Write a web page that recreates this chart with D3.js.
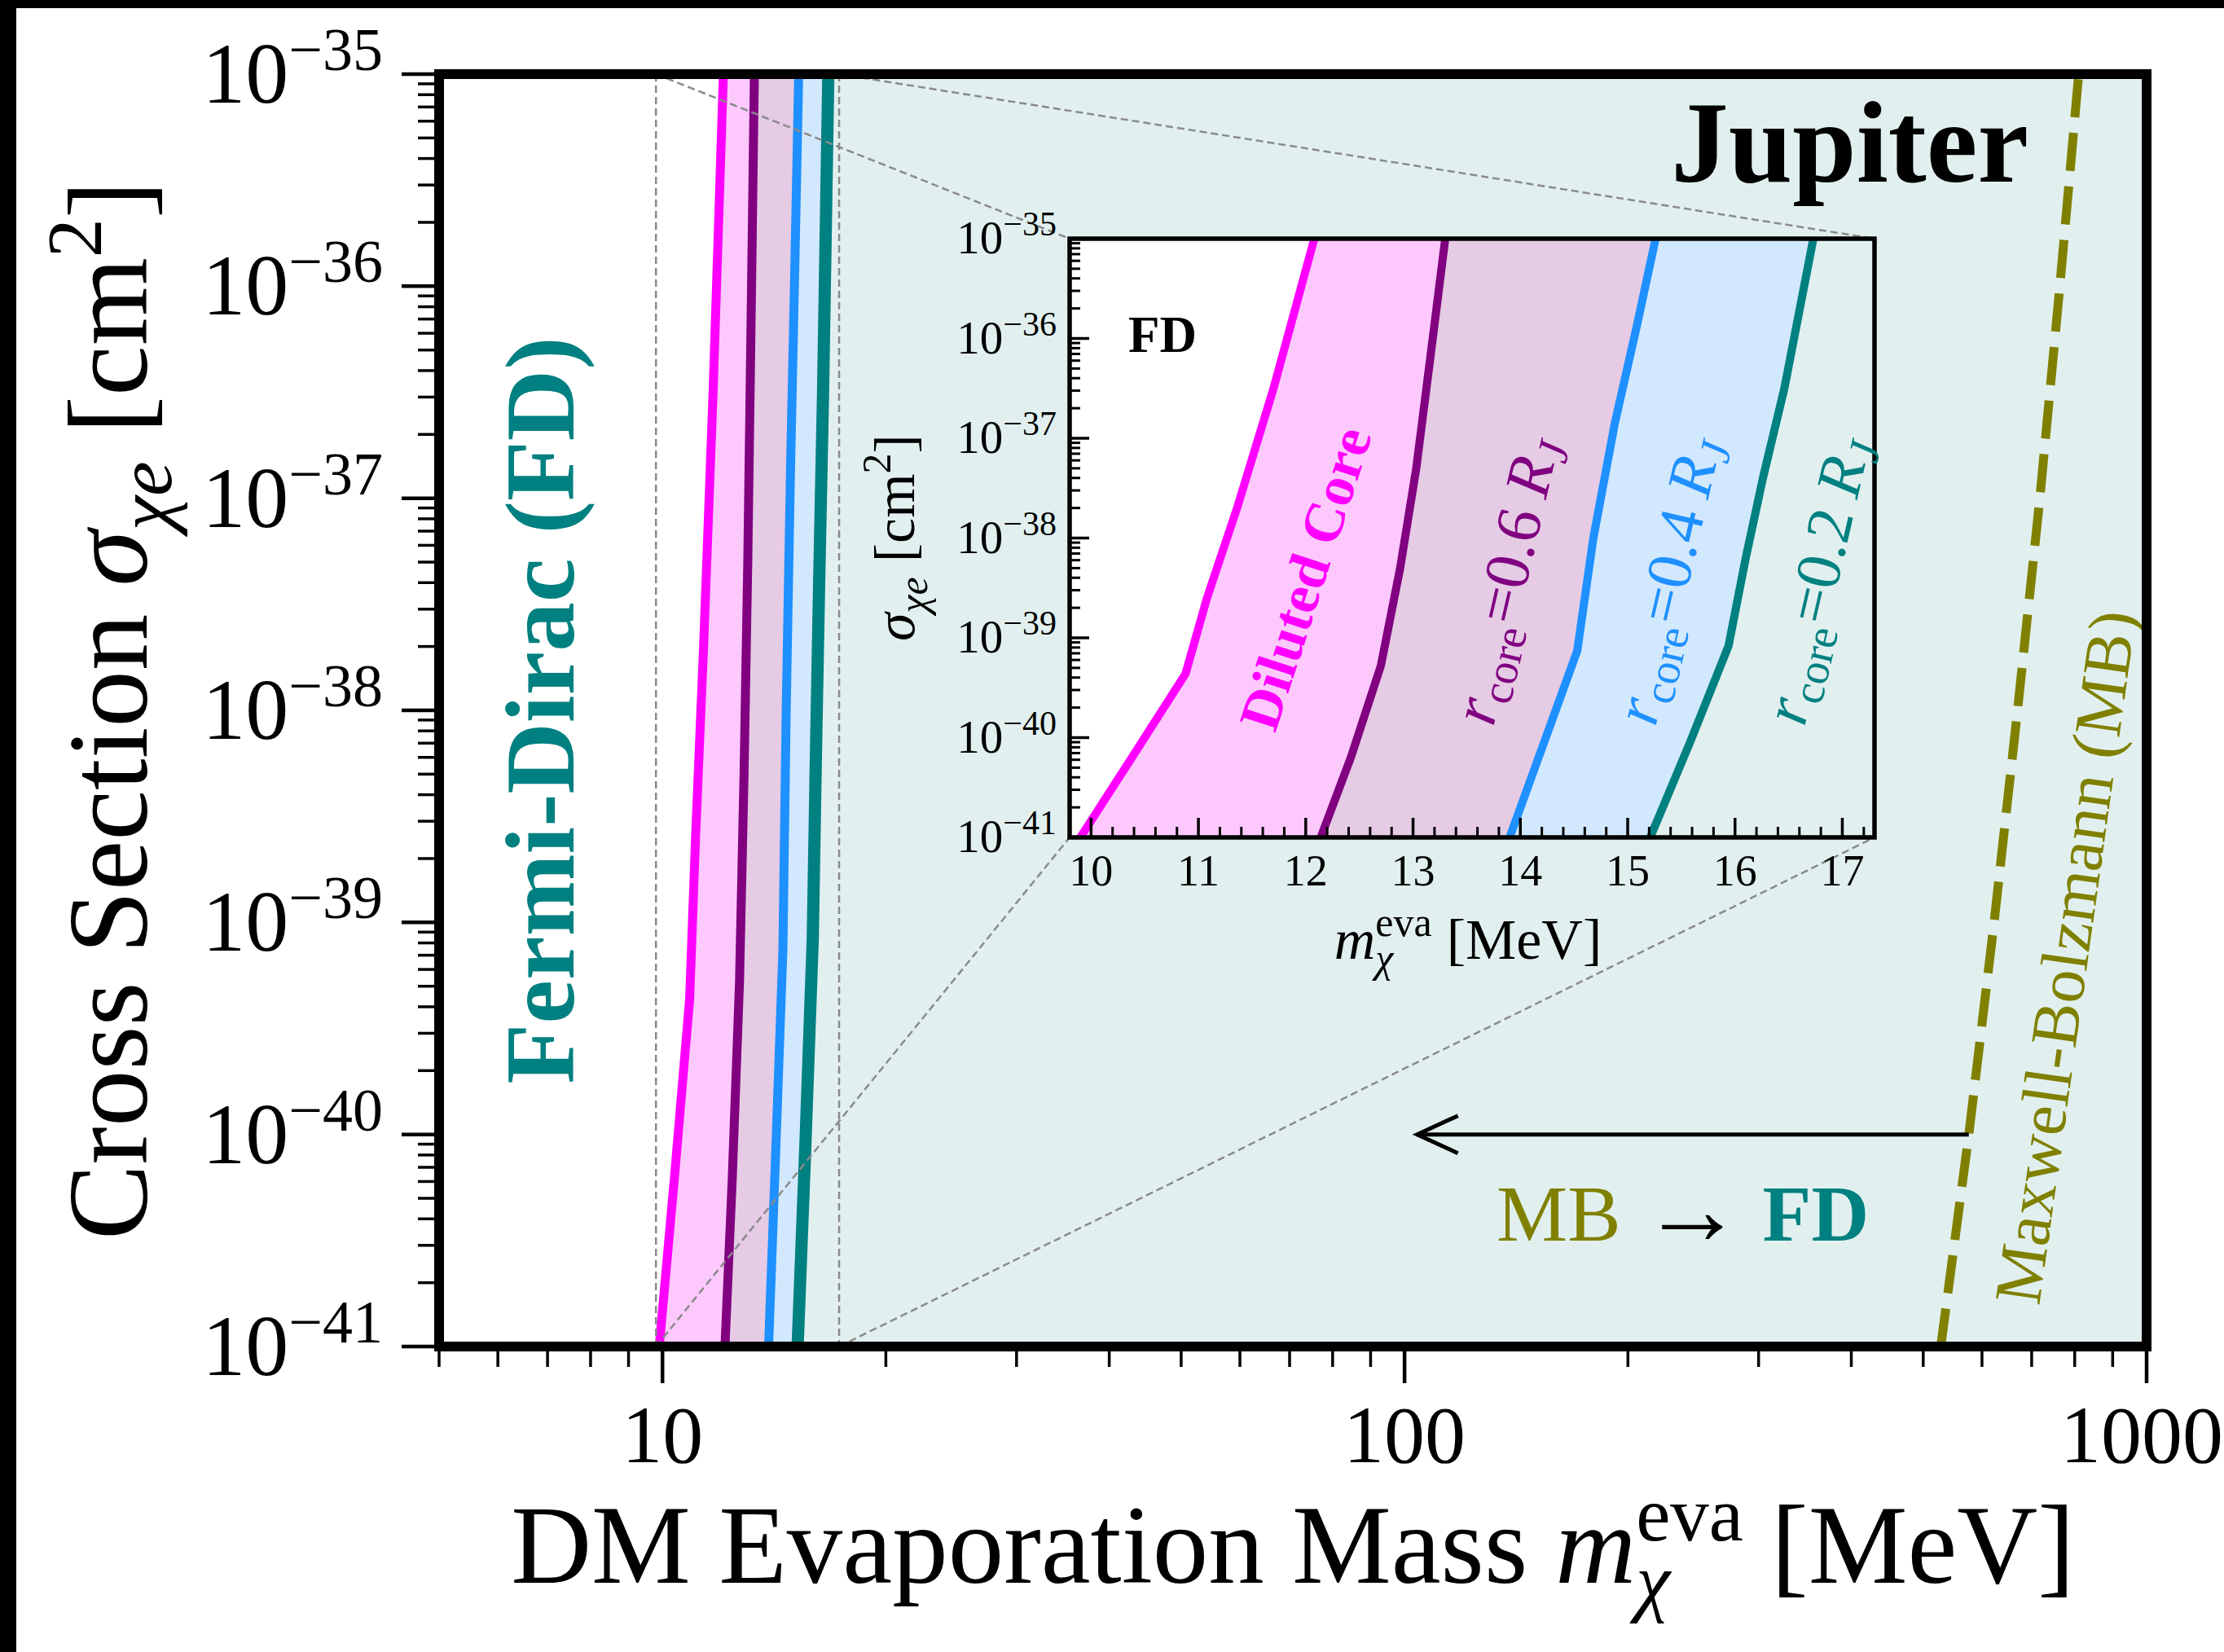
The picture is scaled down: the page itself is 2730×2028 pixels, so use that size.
<!DOCTYPE html>
<html><head><meta charset="utf-8">
<script src="https://cdn.jsdelivr.net/npm/d3@7"></script>
<style>body{margin:0;background:#fff}</style>
</head><body>
<svg id="chart" width="2730" height="2028"></svg>
<script>
// ---------------- data ----------------
const dilutedCoreMass     = [9.90, 10.38, 10.88, 11.08, 11.36, 11.70, 12.08];
const dilutedCoreLogSigma = [-41, -40.2, -39.36, -38.6, -37.7, -36.5, -35];
const core06Mass          = [12.14, 12.42, 12.70, 12.88, 13.03, 13.16, 13.30];
const core06LogSigma      = [-41, -40.2, -39.28, -38.3, -37.3, -36.2, -35];
const core04Mass          = [13.90, 14.22, 14.53, 14.68, 14.88, 15.08, 15.26];
const core04LogSigma      = [-41, -40.05, -39.13, -38.0, -36.85, -35.9, -35];
const core02Mass          = [15.21, 15.58, 15.94, 16.10, 16.26, 16.46, 16.73];
const core02LogSigma      = [-41, -40.05, -39.08, -38.2, -37.4, -36.5, -35];
const mbMass              = [528, 576, 623, 670, 718, 764, 810];
const mbLogSigma          = [-41, -40, -39, -38, -37, -36, -35];
const arrowMass           = [576, 104];
const arrowLogSigma       = -40;
const mainXDomain         = [5, 1000];
const sigmaDomain         = [1e-41, 1e-35];
const insetXDomain        = [9.8, 17.3];
const mainXMajor          = [10, 100, 1000];
const mainXLabels         = ["10", "100", "1000"];
const insetXTicks         = [10, 11, 12, 13, 14, 15, 16, 17];
const insetXLabels        = ["10", "11", "12", "13", "14", "15", "16", "17"];
const yDecades            = [-41, -40, -39, -38, -37, -36, -35];

const FONT = "'Liberation Serif', 'Times New Roman', serif";
const C = {magenta:"#ff00ff", purple:"#800080", blue:"#1e90ff", teal:"#008080", olive:"#808000",
  fPink:"#fdc9fd", fPurple:"#e5cbe4", fBlue:"#d2e8fc", fTeal:"#e1f0ef", grey:"#8a8a8a"};

const svg = d3.select("#chart");
svg.append("rect").attr("width",2730).attr("height",2028).attr("fill","#fff");
svg.append("rect").attr("x",0).attr("y",0).attr("width",2730).attr("height",10).attr("fill","#000");
svg.append("rect").attr("x",0).attr("y",0).attr("width",20).attr("height",2028).attr("fill","#000");

// ---------------- helpers ----------------
function rich(parent, segs, o) {
  const g = parent.append("g");
  const inner = g.append("g");
  let cx = 0, prevStart = 0;
  segs.forEach(s => {
    const xs = s.stack ? prevStart : cx + (s.dx || 0);
    const t = inner.append("text").attr("x", xs).attr("y", s.dy || 0)
      .attr("font-family", FONT).attr("font-size", s.size || o.size)
      .attr("font-style", s.italic ? "italic" : "normal")
      .attr("font-weight", s.bold ? "bold" : "normal")
      .attr("fill", s.fill || o.fill || "#000").text(s.t);
    const w = t.node().getComputedTextLength();
    if (s.stack) cx = Math.max(cx, xs + w); else { prevStart = xs; cx = xs + w; }
  });
  const off = o.anchor === "middle" ? -cx / 2 : o.anchor === "end" ? -cx : 0;
  inner.attr("transform", `translate(${off},${o.vshift || 0})`);
  g.attr("transform", `translate(${o.x},${o.y}) rotate(${o.rotate || 0})`);
  return g;
}
const pts = (ms, ls) => ms.map((m, i) => ({m, s: Math.pow(10, ls[i])}));
const curves = [
  {p: pts(dilutedCoreMass, dilutedCoreLogSigma), c: C.magenta},
  {p: pts(core06Mass, core06LogSigma), c: C.purple},
  {p: pts(core04Mass, core04LogSigma), c: C.blue},
  {p: pts(core02Mass, core02LogSigma), c: C.teal}
];
const fills = [C.fPink, C.fPurple, C.fBlue];

function drawPanel(g, xs, ys, xmax, lw, lwTeal) {
  const line = d3.line().x(d => xs(d.m)).y(d => ys(d.s));
  for (let i = 0; i < 3; i++) {
    const poly = curves[i].p.concat(curves[i + 1].p.slice().reverse());
    g.append("path").attr("d", line(poly) + "Z").attr("fill", fills[i]);
  }
  const tpoly = curves[3].p.concat([{m: xmax, s: sigmaDomain[1]}, {m: xmax, s: sigmaDomain[0]}]);
  g.append("path").attr("d", line(tpoly) + "Z").attr("fill", C.fTeal);
  curves.forEach((cv, i) => g.append("path").attr("d", line(cv.p)).attr("fill", "none")
    .attr("stroke", cv.c).attr("stroke-width", i === 3 ? lwTeal : lw).attr("stroke-linejoin", "round"));
}

// ---------------- main axes ----------------
const M = {l: 539, r: 2635, t: 91, b: 1653};
const x = d3.scaleLog().domain(mainXDomain).range([M.l, M.r]);
const y = d3.scaleLog().domain(sigmaDomain).range([M.b, M.t]);
svg.append("clipPath").attr("id", "cm").append("rect")
  .attr("x", M.l).attr("y", M.t).attr("width", M.r - M.l).attr("height", M.b - M.t);
const gm = svg.append("g").attr("clip-path", "url(#cm)");
drawPanel(gm, x, y, mainXDomain[1], 11, 15);
const mbPts = pts(mbMass, mbLogSigma);
gm.append("path").attr("d", d3.line().x(d => x(d.m)).y(d => y(d.s))(mbPts))
  .attr("fill", "none").attr("stroke", C.olive).attr("stroke-width", 11).attr("stroke-dasharray", "47,19");

// inset indicator rectangle and connectors
const I = {l: 1313, r: 2301, t: 293, b: 1028};
const dash = s => s.attr("fill", "none").attr("stroke", C.grey).attr("stroke-width", 2.5).attr("stroke-dasharray", "9,5");
insetXDomain.forEach(v => dash(gm.append("line").attr("x1", x(v)).attr("x2", x(v)).attr("y1", M.t).attr("y2", M.b)));
dash(svg.append("line").attr("x1", x(insetXDomain[0])).attr("y1", y(sigmaDomain[1])).attr("x2", I.l).attr("y2", I.t));
dash(svg.append("line").attr("x1", x(insetXDomain[1])).attr("y1", y(sigmaDomain[1])).attr("x2", I.r).attr("y2", I.t));
dash(svg.append("line").attr("x1", x(insetXDomain[0])).attr("y1", y(sigmaDomain[0])).attr("x2", I.l).attr("y2", I.b));
dash(svg.append("line").attr("x1", x(insetXDomain[1])).attr("y1", y(sigmaDomain[0])).attr("x2", I.r).attr("y2", I.b));

// arrow MB -> FD
const ay = y(Math.pow(10, arrowLogSigma));
const ax0 = x(arrowMass[0]), ax1 = x(arrowMass[1]);
svg.append("line").attr("x1", ax0).attr("x2", ax1).attr("y1", ay).attr("y2", ay)
  .attr("stroke", "#000").attr("stroke-width", 5);
svg.append("path").attr("d", `M${ax1 + 50},${ay - 23} L${ax1},${ay} L${ax1 + 50},${ay + 23}`)
  .attr("fill", "none").attr("stroke", "#000").attr("stroke-width", 5).attr("stroke-linejoin", "miter");

// main texts
rich(svg, [{t: "Fermi-Dirac (FD)", bold: true}], {x: 704, y: 872, rotate: -90, anchor: "middle", size: 121, fill: C.teal});
rich(svg, [{t: "Jupiter", bold: true}], {x: 2490, y: 223, anchor: "end", size: 141});
rich(svg, [{t: "MB", fill: C.olive}, {t: "→", dx: 25, size: 125, dy: 4}, {t: "FD", bold: true, fill: C.teal, dx: 24}],
  {x: 1837, y: 1523, anchor: "start", size: 98});
rich(svg, [{t: "Maxwell-Bolzmann (MB)"}], {x: 2536, y: 1175, rotate: -82, anchor: "middle", size: 82, fill: C.olive, vshift: 27});

// main spines
svg.append("rect").attr("x", M.l).attr("y", M.t).attr("width", M.r - M.l).attr("height", M.b - M.t)
  .attr("fill", "none").attr("stroke", "#000").attr("stroke-width", 12);
// main x ticks
const xMinor = [];
[1, 10, 100].forEach(d => { for (let k = 2; k <= 9; k++) { const v = k * d; if (v >= 5 && v < 1000) xMinor.push(v); } });
svg.selectAll(".xmin").data(xMinor).join("line").attr("x1", d => x(d)).attr("x2", d => x(d))
  .attr("y1", M.b).attr("y2", M.b + 25).attr("stroke", "#000").attr("stroke-width", 3.5);
svg.selectAll(".xmaj").data(mainXMajor).join("line").attr("x1", d => x(d)).attr("x2", d => x(d))
  .attr("y1", M.b).attr("y2", M.b + 45).attr("stroke", "#000").attr("stroke-width", 4.5);
mainXMajor.forEach((v, i) => {
  const t = svg.append("text").attr("y", 1795).attr("text-anchor", "middle")
    .attr("font-family", FONT).attr("font-size", 100).text(mainXLabels[i]);
  const w = t.node().getComputedTextLength();
  t.attr("x", Math.min(x(v), 2729 - w / 2));
});
// main y ticks
const yMinor = [];
yDecades.slice(0, -1).forEach(e => { for (let k = 2; k <= 9; k++) yMinor.push(k * Math.pow(10, e)); });
svg.selectAll(".ymin").data(yMinor).join("line").attr("y1", d => y(d)).attr("y2", d => y(d))
  .attr("x1", M.l).attr("x2", M.l - 26).attr("stroke", "#000").attr("stroke-width", 3.5);
svg.selectAll(".ymaj").data(yDecades).join("line").attr("y1", d => y(Math.pow(10, d))).attr("y2", d => y(Math.pow(10, d)))
  .attr("x1", M.l).attr("x2", M.l - 46).attr("stroke", "#000").attr("stroke-width", 4.5);
yDecades.forEach(e => rich(svg, [{t: "10"}, {t: "−" + Math.abs(e), size: 74, dy: -40}],
  {x: 470, y: y(Math.pow(10, e)) + 35, anchor: "end", size: 106}));
// main axis labels
rich(svg, [{t: "DM Evaporation Mass"}, {t: "m", italic: true, dx: 34}, {t: "eva", size: 95, dy: -52},
  {t: "χ", italic: true, size: 95, dy: 30, stack: true}, {t: "[MeV]", dx: 34}],
  {x: 1587, y: 1943, anchor: "middle", size: 137});
rich(svg, [{t: "Cross Section"}, {t: "σ", italic: true, dx: 34}, {t: "χe", italic: true, size: 96, dy: 30},
  {t: "[cm", dx: 34}, {t: "2", size: 96, dy: -56}, {t: "]"}],
  {x: 180, y: 872, rotate: -90, anchor: "middle", size: 139});

// ---------------- inset axes ----------------
const xi = d3.scaleLinear().domain(insetXDomain).range([I.l, I.r]);
const yi = d3.scaleLog().domain(sigmaDomain).range([I.b, I.t]);
svg.append("rect").attr("x", I.l).attr("y", I.t).attr("width", I.r - I.l).attr("height", I.b - I.t).attr("fill", "#fff");
svg.append("clipPath").attr("id", "ci").append("rect")
  .attr("x", I.l).attr("y", I.t).attr("width", I.r - I.l).attr("height", I.b - I.t);
const gi = svg.append("g").attr("clip-path", "url(#ci)");
drawPanel(gi, xi, yi, insetXDomain[1], 10, 10);
// inset ticks (inward)
const xiMinor = d3.range(0, 38).map(i => +(9.8 + i * 0.2).toFixed(1)).filter(v => v > 9.8 && v < 17.3 && Math.abs(v - Math.round(v)) > 0.05);
svg.selectAll(".ximin").data(xiMinor).join("line").attr("x1", d => xi(d)).attr("x2", d => xi(d))
  .attr("y1", I.b).attr("y2", I.b - 13).attr("stroke", "#000").attr("stroke-width", 3);
svg.selectAll(".ximaj").data(insetXTicks).join("line").attr("x1", d => xi(d)).attr("x2", d => xi(d))
  .attr("y1", I.b).attr("y2", I.b - 24).attr("stroke", "#000").attr("stroke-width", 3.5);
svg.selectAll(".yimin").data(yMinor).join("line").attr("y1", d => yi(d)).attr("y2", d => yi(d))
  .attr("x1", I.l).attr("x2", I.l + 13).attr("stroke", "#000").attr("stroke-width", 3);
svg.selectAll(".yimaj").data(yDecades).join("line").attr("y1", d => yi(Math.pow(10, d))).attr("y2", d => yi(Math.pow(10, d)))
  .attr("x1", I.l).attr("x2", I.l + 24).attr("stroke", "#000").attr("stroke-width", 3.5);
svg.append("rect").attr("x", I.l).attr("y", I.t).attr("width", I.r - I.l).attr("height", I.b - I.t)
  .attr("fill", "none").attr("stroke", "#000").attr("stroke-width", 5.5);
insetXTicks.forEach((v, i) => svg.append("text").attr("x", xi(v)).attr("y", 1087).attr("text-anchor", "middle")
  .attr("font-family", FONT).attr("font-size", 54).text(insetXLabels[i]));
yDecades.forEach(e => rich(svg, [{t: "10"}, {t: "−" + Math.abs(e), size: 42, dy: -22}],
  {x: 1297, y: yi(Math.pow(10, e)) + 18, anchor: "end", size: 57}));
rich(svg, [{t: "m", italic: true}, {t: "eva", size: 50, dy: -28}, {t: "χ", italic: true, size: 50, dy: 16, stack: true},
  {t: "[MeV]", dx: 18}], {x: 1802, y: 1177, anchor: "middle", size: 70});
rich(svg, [{t: "σ", italic: true}, {t: "χe", italic: true, size: 50, dy: 16}, {t: "[cm", dx: 18}, {t: "2", size: 50, dy: -29}, {t: "]"}],
  {x: 1122, y: 660, rotate: -90, anchor: "middle", size: 70});
rich(svg, [{t: "FD", bold: true}], {x: 1385, y: 432, anchor: "start", size: 63});
// curve labels
rich(svg, [{t: "Diluted Core", bold: true}], {x: 1602, y: 710, rotate: -72, anchor: "middle", size: 70, fill: C.magenta, vshift: 24});
[[0.6, C.purple, 1850], [0.4, C.blue, 2049], [0.2, C.teal, 2232]].forEach(([v, col, cx]) =>
  rich(svg, [{t: "r", italic: true}, {t: "core", size: 55, dy: 14}, {t: "=" + v, dx: 2}, {t: "R", italic: true, dx: 18},
    {t: "J", italic: true, size: 55, dy: 14}], {x: cx, y: 713, rotate: -77, anchor: "middle", size: 78, fill: col, vshift: 24}));
</script>
</body></html>
